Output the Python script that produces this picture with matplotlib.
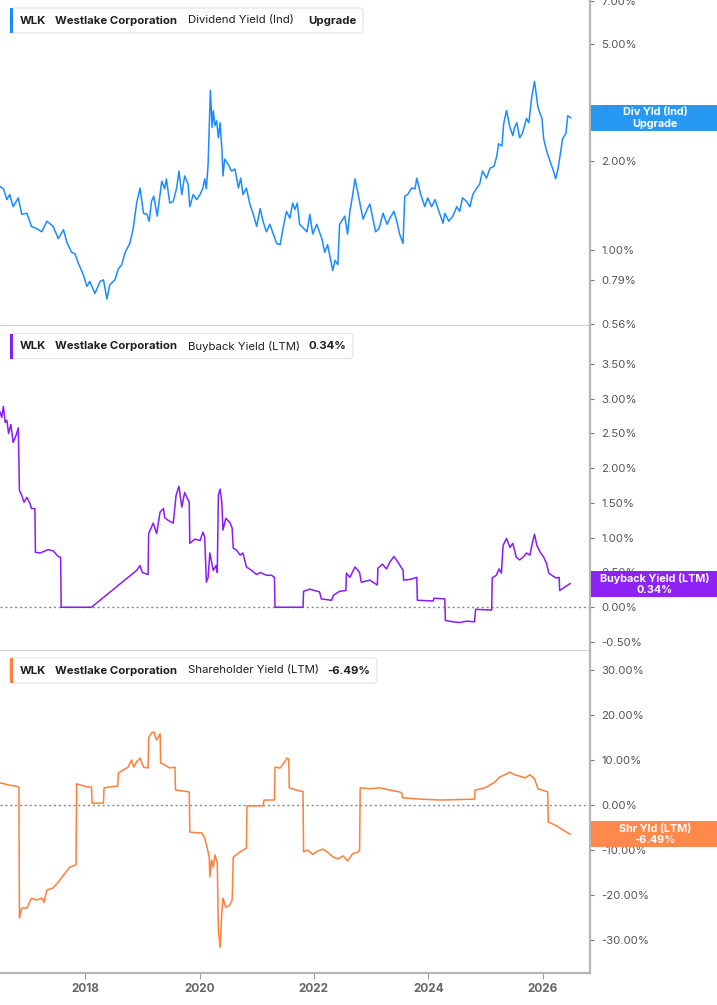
import matplotlib
matplotlib.use("Agg")
import matplotlib.pyplot as plt
from matplotlib.patches import Rectangle, FancyBboxPatch
import numpy as np

plt.rcParams['font.family'] = ['Inter', 'DejaVu Sans']

# ---------------- data ----------------
div_dates = [2016.51, 2016.57, 2016.63, 2016.68, 2016.74, 2016.83, 2016.89, 2016.98, 2017.06, 2017.15,
             2017.24, 2017.33, 2017.44, 2017.53, 2017.62, 2017.68, 2017.76, 2017.82, 2017.88, 2017.97,
             2018.03, 2018.08, 2018.17, 2018.26, 2018.32, 2018.38, 2018.43, 2018.52, 2018.58, 2018.64,
             2018.70, 2018.78, 2018.84, 2018.90, 2018.96, 2019.02, 2019.08, 2019.12, 2019.16, 2019.20,
             2019.26, 2019.34, 2019.39, 2019.42, 2019.48, 2019.54, 2019.60, 2019.64, 2019.69, 2019.74,
             2019.80, 2019.83, 2019.89, 2019.95, 2020.01, 2020.06, 2020.09, 2020.12, 2020.15, 2020.17,
             2020.19, 2020.22, 2020.24, 2020.27, 2020.30, 2020.33, 2020.36, 2020.39, 2020.41, 2020.44,
             2020.50, 2020.56, 2020.62, 2020.68, 2020.72, 2020.76, 2020.82, 2020.88, 2020.94, 2021.00,
             2021.06, 2021.11, 2021.17, 2021.23, 2021.29, 2021.35, 2021.41, 2021.46, 2021.52, 2021.58,
             2021.63, 2021.67, 2021.71, 2021.75, 2021.88, 2021.93, 2021.98, 2022.05, 2022.14, 2022.19,
             2022.24, 2022.33, 2022.37, 2022.42, 2022.45, 2022.54, 2022.59, 2022.63, 2022.68, 2022.72,
             2022.77, 2022.86, 2022.93, 2022.98, 2023.03, 2023.08, 2023.14, 2023.21, 2023.28, 2023.33,
             2023.40, 2023.45, 2023.50, 2023.56, 2023.59, 2023.64, 2023.71, 2023.77, 2023.80, 2023.87,
             2023.94, 2023.99, 2024.06, 2024.12, 2024.17, 2024.26, 2024.29, 2024.36, 2024.43, 2024.50,
             2024.55, 2024.60, 2024.67, 2024.73, 2024.78, 2024.85, 2024.90, 2024.95, 2025.02, 2025.08,
             2025.15, 2025.20, 2025.23, 2025.29, 2025.32, 2025.37, 2025.43, 2025.48, 2025.51, 2025.55,
             2025.60, 2025.65, 2025.72, 2025.76, 2025.81, 2025.86, 2025.92, 2025.99, 2026.02, 2026.07,
             2026.13, 2026.18, 2026.23, 2026.27, 2026.32, 2026.35, 2026.41, 2026.44, 2026.49]
div_yield = [1.64, 1.61, 1.48, 1.54, 1.40, 1.50, 1.32, 1.33, 1.20, 1.18,
             1.15, 1.25, 1.20, 1.09, 1.17, 1.06, 0.98, 0.97, 0.90, 0.82,
             0.75, 0.78, 0.71, 0.78, 0.79, 0.68, 0.76, 0.79, 0.86, 0.89,
             0.98, 1.05, 1.18, 1.44, 1.62, 1.33, 1.32, 1.25, 1.46, 1.52,
             1.30, 1.71, 1.61, 1.74, 1.44, 1.46, 1.62, 1.85, 1.54, 1.78,
             1.67, 1.40, 1.54, 1.48, 1.54, 1.62, 1.74, 1.61, 1.95, 2.60,
             3.48, 2.60, 2.97, 2.64, 2.74, 2.40, 2.70, 2.22, 1.78, 2.03,
             1.95, 1.85, 1.88, 1.62, 1.75, 1.54, 1.62, 1.43, 1.32, 1.20,
             1.38, 1.25, 1.15, 1.22, 1.13, 1.05, 1.04, 1.18, 1.35, 1.28,
             1.44, 1.37, 1.44, 1.22, 1.15, 1.32, 1.13, 1.22, 1.09, 0.98,
             1.04, 0.85, 0.92, 0.89, 1.22, 1.30, 1.13, 1.35, 1.54, 1.74,
             1.56, 1.27, 1.37, 1.43, 1.28, 1.15, 1.18, 1.33, 1.22, 1.28,
             1.35, 1.25, 1.13, 1.05, 1.52, 1.54, 1.62, 1.61, 1.75, 1.54,
             1.40, 1.50, 1.40, 1.48, 1.38, 1.23, 1.33, 1.25, 1.30, 1.40,
             1.35, 1.50, 1.46, 1.40, 1.54, 1.62, 1.67, 1.85, 1.75, 1.89,
             1.92, 2.08, 2.29, 2.25, 2.68, 2.97, 2.60, 2.44, 2.60, 2.70,
             2.40, 2.49, 2.79, 2.70, 3.29, 3.73, 3.04, 2.79, 2.38, 2.17,
             2.00, 1.88, 1.74, 1.88, 2.17, 2.38, 2.49, 2.85, 2.81]

buy_dates = [2016.51, 2016.54, 2016.57, 2016.60, 2016.63, 2016.66, 2016.70, 2016.74, 2016.79, 2016.83,
             2016.85, 2016.89, 2016.93, 2016.98, 2017.03, 2017.06, 2017.12, 2017.13, 2017.21, 2017.30,
             2017.35, 2017.44, 2017.53, 2017.57, 2017.58, 2018.11, 2018.84, 2018.90, 2018.96, 2019.00,
             2019.10, 2019.11, 2019.19, 2019.25, 2019.31, 2019.37, 2019.39, 2019.45, 2019.54, 2019.59,
             2019.64, 2019.69, 2019.74, 2019.82, 2019.83, 2019.92, 2020.01, 2020.06, 2020.09, 2020.12,
             2020.15, 2020.18, 2020.24, 2020.29, 2020.31, 2020.33, 2020.36, 2020.39, 2020.41, 2020.46,
             2020.53, 2020.57, 2020.59, 2020.65, 2020.71, 2020.76, 2020.82, 2020.91, 2021.00, 2021.06,
             2021.17, 2021.26, 2021.31, 2021.32, 2021.81, 2021.82, 2021.93, 2022.10, 2022.13, 2022.31,
             2022.34, 2022.45, 2022.56, 2022.57, 2022.63, 2022.72, 2022.80, 2022.83, 2022.98, 2023.11,
             2023.12, 2023.20, 2023.27, 2023.33, 2023.40, 2023.47, 2023.56, 2023.57, 2023.68, 2023.80,
             2023.81, 2024.09, 2024.10, 2024.29, 2024.30, 2024.44, 2024.55, 2024.67, 2024.81, 2024.83,
             2025.11, 2025.12, 2025.19, 2025.24, 2025.28, 2025.31, 2025.37, 2025.43, 2025.48, 2025.54,
             2025.60, 2025.66, 2025.72, 2025.78, 2025.82, 2025.86, 2025.90, 2025.96, 2026.02, 2026.07,
             2026.11, 2026.18, 2026.24, 2026.29, 2026.30, 2026.39, 2026.48]
buy_yield = [2.81, 2.73, 2.89, 2.66, 2.69, 2.50, 2.63, 2.37, 2.47, 2.58,
             1.68, 1.61, 1.51, 1.58, 1.50, 1.42, 1.42, 0.79, 0.78, 0.81,
             0.83, 0.81, 0.73, 0.72, 0.00, 0.00, 0.49, 0.53, 0.60, 0.50,
             0.47, 1.06, 1.21, 1.06, 1.37, 1.42, 1.29, 1.25, 1.21, 1.61,
             1.74, 1.44, 1.65, 1.51, 0.92, 0.98, 0.96, 1.08, 1.01, 0.36,
             0.43, 0.78, 0.53, 0.60, 0.50, 1.61, 1.70, 1.51, 1.11, 1.28,
             1.22, 1.14, 0.85, 0.82, 0.75, 0.78, 0.58, 0.53, 0.47, 0.50,
             0.46, 0.46, 0.43, 0.00, 0.00, 0.23, 0.26, 0.22, 0.12, 0.10,
             0.17, 0.23, 0.24, 0.49, 0.43, 0.58, 0.50, 0.36, 0.39, 0.32,
             0.56, 0.62, 0.55, 0.65, 0.73, 0.65, 0.53, 0.39, 0.40, 0.43,
             0.10, 0.09, 0.13, 0.12, -0.19, -0.21, -0.22, -0.20, -0.21, -0.03,
             -0.04, 0.42, 0.46, 0.55, 0.49, 0.89, 0.99, 0.86, 0.92, 0.72,
             0.68, 0.72, 0.78, 0.75, 0.92, 1.05, 0.89, 0.79, 0.72, 0.63,
             0.49, 0.45, 0.42, 0.43, 0.24, 0.29, 0.34]

shr_dates = [2016.51, 2016.68, 2016.77, 2016.84, 2016.85, 2016.89, 2016.98, 2017.06, 2017.15, 2017.24,
             2017.28, 2017.33, 2017.44, 2017.53, 2017.65, 2017.73, 2017.84, 2017.85, 2018.03, 2018.11,
             2018.12, 2018.32, 2018.33, 2018.43, 2018.57, 2018.58, 2018.67, 2018.75, 2018.81, 2018.85,
             2018.90, 2018.96, 2019.02, 2019.10, 2019.11, 2019.16, 2019.20, 2019.25, 2019.31, 2019.32,
             2019.39, 2019.48, 2019.57, 2019.58, 2019.71, 2019.82, 2019.83, 2019.95, 2020.04, 2020.09,
             2020.13, 2020.17, 2020.18, 2020.21, 2020.24, 2020.27, 2020.31, 2020.33, 2020.36, 2020.39,
             2020.41, 2020.46, 2020.53, 2020.57, 2020.59, 2020.68, 2020.76, 2020.82, 2020.83, 2021.11,
             2021.13, 2021.31, 2021.32, 2021.41, 2021.49, 2021.53, 2021.56, 2021.57, 2021.75, 2021.81,
             2021.82, 2021.89, 2021.98, 2022.07, 2022.16, 2022.24, 2022.33, 2022.42, 2022.51, 2022.59,
             2022.68, 2022.77, 2022.80, 2022.81, 2022.98, 2023.15, 2023.33, 2023.50, 2023.54, 2023.55,
             2023.85, 2024.20, 2024.55, 2024.81, 2024.82, 2024.99, 2025.16, 2025.25, 2025.34, 2025.43,
             2025.51, 2025.60, 2025.69, 2025.78, 2025.86, 2025.92, 2026.04, 2026.09, 2026.10, 2026.21,
             2026.30, 2026.39, 2026.48]
shr_yield = [4.9, 4.4, 4.2, 4.0, -25.1, -22.9, -22.9, -20.7, -21.1, -20.7,
             -21.6, -18.9, -18.4, -17.1, -15.1, -13.8, -13.3, 4.7, 4.0, 4.0,
             0.4, 0.4, 3.8, 4.0, 4.2, 7.1, 7.8, 8.4, 10.0, 8.4,
             9.6, 10.4, 8.4, 8.2, 14.9, 16.0, 16.2, 14.4, 15.8, 9.3,
             8.9, 8.2, 8.4, 3.3, 3.1, 2.9, -6.0, -6.2, -6.2, -7.3,
             -9.3, -11.6, -16.0, -12.2, -13.8, -11.1, -12.7, -27.8, -31.6, -24.0,
             -20.7, -22.7, -22.2, -21.1, -11.6, -10.7, -10.0, -9.6, -0.2, -0.2,
             1.1, 1.1, 8.4, 8.2, 9.6, 10.4, 10.2, 3.8, 3.1, 3.0,
             -10.4, -10.0, -11.0, -10.2, -9.8, -10.5, -11.5, -12.0, -11.3, -12.4,
             -10.8, -10.5, -10.0, 3.8, 3.6, 3.8, 3.3, 2.9, 2.6, 1.6,
             1.3, 1.1, 1.2, 1.3, 3.3, 3.8, 5.0, 6.2, 6.7, 7.3,
             6.7, 6.4, 6.0, 6.7, 5.8, 3.6, 3.1, 2.9, -3.8, -4.4,
             -5.1, -5.8, -6.49]

year_ticks = [2018, 2020, 2022, 2024, 2026]
div_ticks = [0.56, 0.79, 1.00, 2.00, 3.00, 5.00, 7.00]
buy_ticks = [-0.5, 0.0, 0.5, 1.0, 1.5, 2.0, 2.5, 3.0, 3.5]
shr_ticks = [-30, -20, -10, 0, 10, 20, 30]

ticker = "WLK"
company = "Westlake Corporation"
metrics = ["Dividend Yield (Ind)", "Buyback Yield (LTM)", "Shareholder Yield (LTM)"]
metric_values = ["Upgrade", "0.34%", "-6.49%"]
tag_lines = [("Div Yld (Ind)", "Upgrade"), ("Buyback Yield (LTM)", "0.34%"), ("Shr Yld (LTM)", "-6.49%")]

# ---------------- styling ----------------
W, H = 717, 1005
BLUE, PURPLE, ORANGE = '#1a8cff', '#8a1cf5', '#ff7f3c'
TAGC = ['#2196f3', '#8b1cf5', '#ff8445']
XMIN, XMAX = 2016.51, 2026.83

fig = plt.figure(figsize=(W / 100, H / 100), dpi=100)

def fx(px):
    return px / W

def fy(py):
    return 1 - py / H

panels = [(0, 325), (325, 650), (650, 973)]
axes = []
for top, bot in panels:
    ax = fig.add_axes([0, fy(bot), fx(590), (bot - top) / H])
    axes.append(ax)

ax1, ax2, ax3 = axes
ax1.plot(div_dates, div_yield, color=BLUE, lw=1.1)
ax1.set_yscale('log')
ax1.set_ylim(0.555, 7.05)
ax1.set_yticks(div_ticks)
ax1.yaxis.set_minor_locator(matplotlib.ticker.NullLocator())
ax1.set_yticklabels([f"{v:.2f}%" for v in div_ticks])

ax2.plot(buy_dates, buy_yield, color=PURPLE, lw=1.1)
ax2.set_ylim(-0.615, 4.06)
ax2.set_yticks(buy_ticks)
ax2.set_yticklabels([f"{v:.2f}%" for v in buy_ticks])
ax2.axhline(0, color='#888888', lw=1.0, ls=(0, (1.5, 2)), zorder=1)

ax3.plot(shr_dates, shr_yield, color=ORANGE, lw=1.1)
ax3.set_ylim(-37.3, 34.4)
ax3.set_yticks(shr_ticks)
ax3.set_yticklabels([f"{v:.2f}%" for v in shr_ticks])
ax3.axhline(0, color='#888888', lw=1.0, ls=(0, (1.5, 2)), zorder=1)

for i, ax in enumerate(axes):
    ax.set_xlim(XMIN, XMAX)
    ax.set_facecolor('none')
    ax.yaxis.tick_right()
    ax.tick_params(axis='y', which='both', direction='out', length=3, width=0.8,
                   color='#777777', labelcolor='#555555', labelsize=8.2, pad=5)
    for s in ['left', 'top']:
        ax.spines[s].set_visible(False)
    ax.spines['right'].set_color('#b5b5b5')
    ax.spines['right'].set_linewidth(1.6)
    if i < 2:
        ax.spines['bottom'].set_color('#d0d0d0')
        ax.spines['bottom'].set_linewidth(0.8)
        ax.set_xticks([])
    else:
        ax.spines['bottom'].set_color('#b5b5b5')
        ax.spines['bottom'].set_linewidth(1.6)
        ax.set_xticks(year_ticks)
        ax.set_xticklabels([str(y) for y in year_ticks], fontweight='bold')
        ax.tick_params(axis='x', direction='out', length=4, width=0.8, color='#999999',
                       labelcolor='#666666', labelsize=8.5, pad=3)

# ---------------- legend boxes ----------------
fig.canvas.draw()
renderer = fig.canvas.get_renderer()
legend_specs = [(20.5, 14, BLUE), (346, 8, PURPLE), (670.5, 8, ORANGE)]
fs = 8.2
for k, (cy, gap, col) in enumerate(legend_specs):
    fig.text(fx(20), fy(cy), ticker, fontsize=fs, fontweight='bold', color='#1f1f1f', va='center', zorder=7)
    fig.text(fx(55), fy(cy), company, fontsize=fs, fontweight='bold', color='#1f1f1f', va='center', zorder=7)
    mt = fig.text(fx(188), fy(cy), metrics[k], fontsize=fs, color='#1f1f1f', va='center', zorder=7)
    mend = mt.get_window_extent(renderer).x1
    vt = fig.text((mend + gap) / W, fy(cy), metric_values[k], fontsize=fs, fontweight='bold',
                  color='#1f1f1f', va='center', zorder=7)
    vend = vt.get_window_extent(renderer).x1
    right = vend + 7
    box = FancyBboxPatch((fx(10), fy(cy + 12.5)), fx(right) - fx(10), 25 / H,
                         boxstyle="round,pad=0,rounding_size=0.004",
                         transform=fig.transFigure, facecolor='white', edgecolor='#e3e3e3',
                         lw=0.8, zorder=5)
    fig.patches.append(box)
    fig.patches.append(Rectangle((fx(10), fy(cy + 12.5)), 3 / W, 25 / H, transform=fig.transFigure,
                                 facecolor=col, edgecolor='none', zorder=6))

# ---------------- value tags on the right ----------------
last_vals = [div_yield[-1], buy_yield[-1], shr_yield[-1]]
for k, ax in enumerate(axes):
    _, ypix = ax.transData.transform((XMAX, last_vals[k]))
    yfig = ypix / H
    fig.patches.append(Rectangle((fx(590.5), yfig - 13 / H), (717 - 590.5) / W, 26 / H,
                                 transform=fig.transFigure, facecolor=TAGC[k], edgecolor='none',
                                 alpha=0.97, zorder=10))
    l1, l2 = tag_lines[k]
    fig.text(fx(655), yfig + 5.5 / H, l1, fontsize=7.8, fontweight='bold', color='white',
             ha='center', va='center', zorder=11)
    fig.text(fx(655), yfig - 6 / H, l2, fontsize=7.8, fontweight='bold', color='white',
             ha='center', va='center', zorder=11)

fig.savefig('out.png', dpi=100)
